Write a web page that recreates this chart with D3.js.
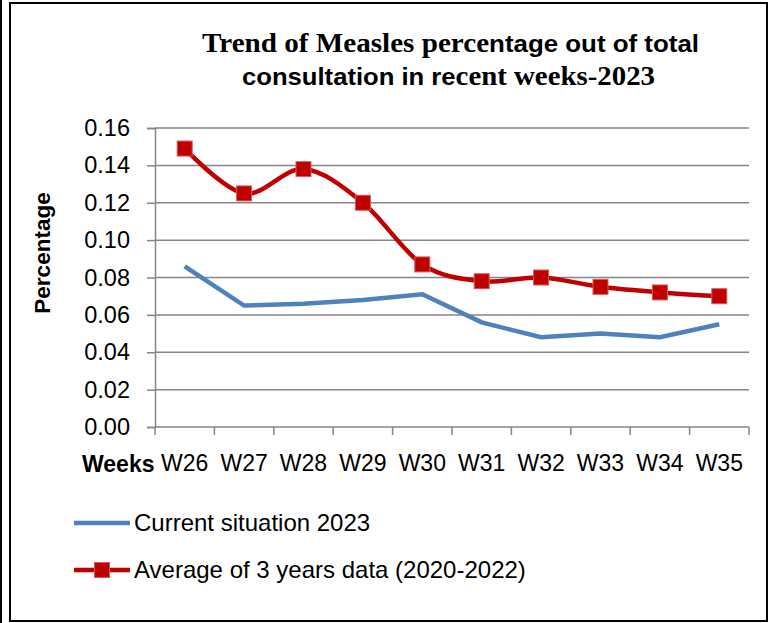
<!DOCTYPE html>
<meta charset="utf-8">
<script src="https://d3js.org/d3.v7.min.js"></script>
<style>
  body { margin: 0; background: #fff; }
  text { font-family: "Liberation Sans", Arial, sans-serif; }
</style>
<svg width="773" height="623"></svg>
<script>
var weeks = ["W26", "W27", "W28", "W29", "W30", "W31", "W32", "W33", "W34", "W35"];
var current2023 = [0.086, 0.065, 0.066, 0.068, 0.071, 0.056, 0.048, 0.050, 0.048, 0.055];
var avg3years = [0.149, 0.125, 0.138, 0.120, 0.087, 0.078, 0.080, 0.075, 0.072, 0.070];
var yTicks = [0, 0.02, 0.04, 0.06, 0.08, 0.10, 0.12, 0.14, 0.16];

function drawChart() {
  var svg = d3.select("svg");

  // frame
  svg.append("rect").attr("x", 10).attr("y", 3).attr("width", 757).attr("height", 618)
      .style("fill", "none").style("stroke", "#000").style("stroke-width", 2);
  svg.append("line").attr("x1", 1).attr("x2", 1).attr("y1", 0).attr("y2", 623)
      .style("stroke", "#000").style("stroke-width", 2);

  // title, mixed serif / sans like the original
  var serif = "'Liberation Serif', 'Times New Roman', serif";
  var t1 = svg.append("text").attr("x", 202).attr("y", 52)
      .attr("textLength", 497).attr("lengthAdjust", "spacingAndGlyphs")
      .style("font-weight", "bold");
  t1.append("tspan").style("font-family", serif).style("font-size", "27px").text("Trend of Measles perce");
  t1.append("tspan").style("font-size", "24px").text("ntage out of total");
  var t2 = svg.append("text").attr("x", 242).attr("y", 85)
      .attr("textLength", 413).attr("lengthAdjust", "spacingAndGlyphs")
      .style("font-weight", "bold");
  t2.append("tspan").style("font-size", "24px").text("consultation in re");
  t2.append("tspan").style("font-family", serif).style("font-size", "27px").text("cent weeks-2023");

  var left = 155, right = 749, plotTop = 128, bottom = 427;

  var x = d3.scaleBand().domain(weeks).range([left, right]);
  var y = d3.scaleLinear().domain([0, 0.16]).range([bottom, plotTop]);

  // gridlines
  svg.append("g").selectAll("line").data(yTicks.slice(1)).enter().append("line")
      .attr("x1", left).attr("x2", right)
      .attr("y1", function(d) { return y(d); }).attr("y2", function(d) { return y(d); })
      .style("stroke", "#868686").style("stroke-width", 1.5);

  // y axis
  var yAxis = svg.append("g").attr("transform", "translate(" + left + ",0)")
      .call(d3.axisLeft(y).tickValues(yTicks).tickFormat(d3.format(".2f")).tickSize(8).tickPadding(17));
  yAxis.select(".domain").style("stroke", "#868686").style("stroke-width", 1.5);
  yAxis.selectAll(".tick line").style("stroke", "#868686").style("stroke-width", 1.5);
  yAxis.selectAll("text").style("font-size", "23.5px").style("fill", "#000");

  // x axis
  var xAxis = svg.append("g").attr("transform", "translate(0," + bottom + ")")
      .call(d3.axisBottom(x).tickSize(0).tickPadding(28));
  xAxis.select(".domain").attr("d", "M" + left + ",0H" + right).style("stroke", "#868686").style("stroke-width", 1.5);
  xAxis.selectAll("text").style("font-size", "23px").style("fill", "#000");
  svg.append("g").selectAll("line")
      .data(d3.range(weeks.length + 1)).enter().append("line")
      .attr("x1", function(i) { return left + i * x.step(); })
      .attr("x2", function(i) { return left + i * x.step(); })
      .attr("y1", bottom).attr("y2", bottom + 8)
      .style("stroke", "#868686").style("stroke-width", 1.5);

  svg.append("text").attr("x", 82).attr("y", 464).attr("dy", "0.35em")
      .style("font-weight", "bold").style("font-size", "23px").text("Weeks");

  svg.append("text").attr("transform", "translate(42,253) rotate(-90)")
      .attr("text-anchor", "middle").attr("dy", "0.35em")
      .style("font-weight", "bold").style("font-size", "22.5px").text("Percentage");

  var cx = function(d, i) { return x(weeks[i]) + x.bandwidth() / 2; };

  // current line
  svg.append("path").datum(current2023)
      .attr("d", d3.line().x(cx).y(function(d) { return y(d); }))
      .style("fill", "none").style("stroke", "#4F81BD").style("stroke-width", 4.5);

  // average line (smoothed)
  svg.append("path").datum(avg3years)
      .attr("d", d3.line().x(cx).y(function(d) { return y(d); }).curve(d3.curveCatmullRom.alpha(0)))
      .style("fill", "none").style("stroke", "#C00000").style("stroke-width", 4.5);

  svg.append("g").selectAll("rect").data(avg3years).enter().append("rect")
      .attr("x", function(d, i) { return cx(d, i) - 7.5; })
      .attr("y", function(d) { return y(d) - 7.5; })
      .attr("width", 15).attr("height", 15)
      .style("fill", "#C00000").style("stroke", "#D25B5B").style("stroke-width", 1);

  // legend
  svg.append("line").attr("x1", 74).attr("x2", 130).attr("y1", 523).attr("y2", 523)
      .style("stroke", "#4F81BD").style("stroke-width", 4.5);
  svg.append("text").attr("x", 134).attr("y", 523).attr("dy", "0.35em")
      .style("font-size", "24px").text("Current situation 2023");

  svg.append("line").attr("x1", 74).attr("x2", 130).attr("y1", 570).attr("y2", 570)
      .style("stroke", "#C00000").style("stroke-width", 4.5);
  svg.append("rect").attr("x", 94.5).attr("y", 562.5).attr("width", 15).attr("height", 15)
      .style("fill", "#C00000").style("stroke", "#D25B5B").style("stroke-width", 1);
  svg.append("text").attr("x", 134).attr("y", 570).attr("dy", "0.35em")
      .style("font-size", "24px").text("Average of 3 years data (2020-2022)");
}

drawChart();
</script>
